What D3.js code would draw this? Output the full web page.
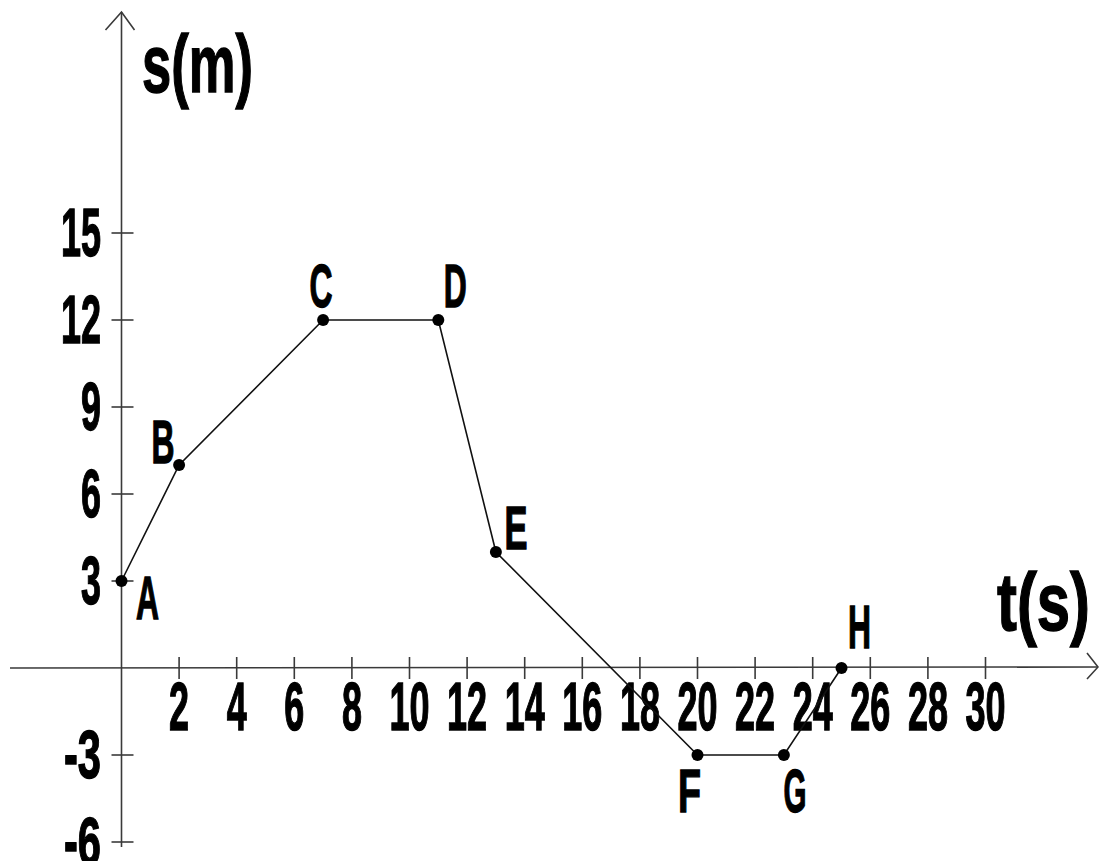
<!DOCTYPE html>
<html>
<head>
<meta charset="utf-8">
<script src="https://cdn.jsdelivr.net/npm/d3@7"></script>
<style>
  html, body { margin: 0; padding: 0; background: #fff; }
  svg text { font-family: "Liberation Sans", Arial, sans-serif; font-weight: bold; fill: #000; stroke: #000; stroke-width: 1.4px; }
</style>
</head>
<body>
<svg id="chart" width="1099" height="861"></svg>
<script>
// Position–time data: point names, times (s) and positions (m)
const pointNames = ["A", "B", "C", "D", "E", "F", "G", "H"];
const times      = [0, 2, 7, 11, 13, 20, 23, 25];
const positions  = [3, 7, 12, 12, 4, -3, -3, 0];

// Tick values for each axis
const xTicks = [2, 4, 6, 8, 10, 12, 14, 16, 18, 20, 22, 24, 26, 28, 30];
const yTicks = [15, 12, 9, 6, 3, -3, -6];

// Where each point's letter sits relative to its dot (dx, dy to baseline)
const labelOffsets = {
  A: [26, 38], B: [-16, -2], C: [-2, -13], D: [17, -13],
  E: [20, -3], F: [-8, 57], G: [11, 57], H: [18, -20]
};

const svg = d3.select("#chart");
const x = d3.scaleLinear().domain([0, 30]).range([121.5, 985.5]);
const y = d3.scaleLinear().domain([-6, 15]).range([842, 233]);

const axisColor = "#3a3a3a";
const x0 = x(0), y0 = y(0);

// Narrow bold lettering: width is fixed per glyph via textLength
const charWidth = c => (c === "-" ? 17 : 20);
const fitLength = s => Array.from(s).reduce((a, c) => a + charWidth(c), 0);

// Axes lines with open arrowheads
const axes = svg.append("g").attr("stroke", axisColor).attr("stroke-width", 1.6).attr("fill", "none");
axes.append("line").attr("x1", x0).attr("y1", 847).attr("x2", x0).attr("y2", 12);
axes.append("polyline").attr("points", `${x0 - 16},30 ${x0},12 ${x0 + 13},30`);
axes.append("line").attr("x1", 10).attr("y1", y0).attr("x2", 1098).attr("y2", y0 - 1);
axes.append("polyline").attr("points", `1087,${y0 - 15} 1098,${y0 - 1} 1087,${y0 + 11}`);

// Tick marks crossing the axes
axes.selectAll(".xt").data(xTicks).join("line")
  .attr("x1", d => x(d)).attr("x2", d => x(d))
  .attr("y1", y0 - 11).attr("y2", y0 + 11);
axes.selectAll(".yt").data(yTicks).join("line")
  .attr("x1", x0 - 10).attr("x2", x0 + 12)
  .attr("y1", d => y(d)).attr("y2", d => y(d));

// Tick labels
svg.append("g").selectAll("text").data(xTicks).join("text")
  .attr("x", d => x(d)).attr("y", y0 + 62)
  .attr("text-anchor", "middle")
  .attr("font-size", 68)
  .attr("textLength", d => fitLength(String(d)))
  .attr("lengthAdjust", "spacingAndGlyphs")
  .text(d => d);

svg.append("g").selectAll("text").data(yTicks).join("text")
  .attr("x", 101).attr("y", d => y(d) + 23)
  .attr("text-anchor", "end")
  .attr("font-size", 68)
  .attr("textLength", d => fitLength(String(d)))
  .attr("lengthAdjust", "spacingAndGlyphs")
  .text(d => d);

// Axis titles
svg.append("text").attr("x", 142).attr("y", 92)
  .attr("font-size", 82).attr("textLength", 111).attr("lengthAdjust", "spacingAndGlyphs")
  .text("s(m)");
svg.append("text").attr("x", 997).attr("y", 630)
  .attr("font-size", 82).attr("textLength", 93).attr("lengthAdjust", "spacingAndGlyphs")
  .text("t(s)");

// The motion path
const pts = times.map((t, i) => ({ name: pointNames[i], t, s: positions[i] }));
svg.append("path")
  .datum(pts)
  .attr("fill", "none").attr("stroke", "#111").attr("stroke-width", 1.6)
  .attr("d", d3.line().x(d => x(d.t)).y(d => y(d.s)));

svg.append("g").selectAll("circle").data(pts).join("circle")
  .attr("cx", d => x(d.t)).attr("cy", d => y(d.s)).attr("r", 6)
  .attr("fill", "#000");

// Point letters
svg.append("g").selectAll("text").data(pts).join("text")
  .attr("x", d => x(d.t) + labelOffsets[d.name][0])
  .attr("y", d => y(d.s) + labelOffsets[d.name][1])
  .attr("text-anchor", "middle")
  .attr("font-size", 61)
  .attr("textLength", 23)
  .attr("lengthAdjust", "spacingAndGlyphs")
  .text(d => d.name);
</script>
</body>
</html>
